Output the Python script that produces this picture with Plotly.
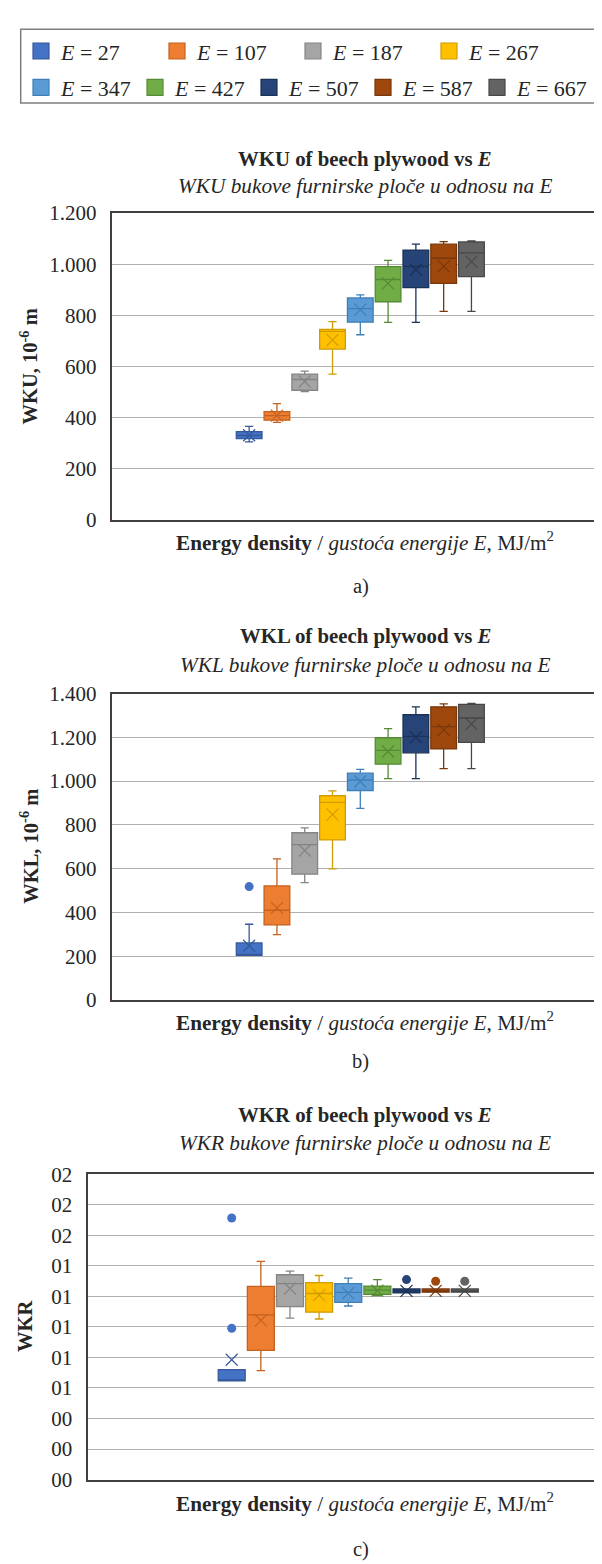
import plotly.graph_objects as go

# ---------------- data ----------------
ENERGY = [27, 107, 187, 267, 347, 427, 507, 587, 667]
COLORS = ["#4472C4", "#ED7D31", "#A5A5A5", "#FFC000", "#5B9BD5",
          "#70AD47", "#264478", "#9E480E", "#636363"]
LINE_COLORS = ["#35599a", "#c4621f", "#858585", "#d09c00", "#3f7fb8",
               "#568a35", "#1b3257", "#7a370a", "#474747"]

# a) WKU, 10^-6 m
WKU_MIN = [305, 381, 502, 570, 724, 772, 772, 815, 815]
WKU_Q1 = [318, 390, 507, 668, 773, 853, 908, 925, 951]
WKU_MED = [330, 408, 549, 737, 826, 940, 991, 1023, 1044]
WKU_Q3 = [345, 423, 570, 745, 868, 990, 1055, 1078, 1087]
WKU_MAX = [366, 455, 582, 775, 880, 1015, 1078, 1088, 1091]
WKU_MEAN = [331, 408, 541, 703, 822, 925, 978, 991, 1010]
WKU_OUT = [[], [], [], [], [], [], [], [], []]

# b) WKL, 10^-6 m
WKL_MIN = [204, 299, 536, 599, 875, 1011, 1011, 1057, 1057]
WKL_Q1 = [204, 343, 575, 731, 957, 1077, 1129, 1147, 1177]
WKL_MED = [207, 410, 710, 903, 1005, 1140, 1204, 1249, 1288]
WKL_Q3 = [261, 521, 764, 933, 1036, 1198, 1303, 1339, 1350]
WKL_MAX = [346, 645, 786, 955, 1053, 1240, 1339, 1353, 1355]
WKL_MEAN = [248, 421, 683, 847, 998, 1135, 1200, 1234, 1260]
WKL_OUT = [[518], [], [], [], [], [], [], [], []]

# c) WKR
WKR_MIN = [0.00647, 0.00714, 0.01058, 0.01052, 0.01137, 0.01205, 0.01223, 0.01228, 0.01228]
WKR_Q1 = [0.00647, 0.00847, 0.01133, 0.01097, 0.01161, 0.01213, 0.01223, 0.01228, 0.01228]
WKR_MED = [0.00650, 0.01079, 0.01284, 0.01219, 0.01226, 0.01241, 0.01236, 0.01236, 0.01236]
WKR_Q3 = [0.00720, 0.01266, 0.01342, 0.01290, 0.01284, 0.01268, 0.01249, 0.01249, 0.01249]
WKR_MAX = [0.00720, 0.01430, 0.01365, 0.01337, 0.01320, 0.01310, 0.01249, 0.01249, 0.01249]
WKR_MEAN = [0.00785, 0.01043, 0.01252, 0.01208, 0.01222, 0.01238, 0.01236, 0.01236, 0.01236]
WKR_OUT = [[0.00991, 0.01714], [], [], [], [], [], [0.01310], [0.01299], [0.01299]]

WKU_TICKS = [0, 200, 400, 600, 800, 1000, 1200]
WKL_TICKS = [0, 200, 400, 600, 800, 1000, 1200, 1400]
WKR_TICK_VALS = [0, 0.002, 0.004, 0.006, 0.008, 0.010, 0.012, 0.014, 0.016, 0.018, 0.020]
WKR_TICK_TEXT = ["00", "00", "00", "01", "01", "01", "01", "01", "02", "02", "02"]

PANELS = [
    dict(mn=WKU_MIN, q1=WKU_Q1, med=WKU_MED, q3=WKU_Q3, mx=WKU_MAX, mean=WKU_MEAN, out=WKU_OUT),
    dict(mn=WKL_MIN, q1=WKL_Q1, med=WKL_MED, q3=WKL_Q3, mx=WKL_MAX, mean=WKL_MEAN, out=WKL_OUT),
    dict(mn=WKR_MIN, q1=WKR_Q1, med=WKR_MED, q3=WKR_Q3, mx=WKR_MAX, mean=WKR_MEAN, out=WKR_OUT),
]

# ---------------- figure ----------------
W, H = 602, 1564
FONT = "Liberation Serif, Times New Roman, serif"
TXT = "#262626"

fig = go.Figure()
axis_suffix = ["", "2", "3"]
for p, d in enumerate(PANELS):
    xs = "x" + axis_suffix[p]
    ys = "y" + axis_suffix[p]
    for i, e in enumerate(ENERGY):
        fig.add_trace(go.Box(
            x=[e], q1=[d["q1"][i]], median=[d["med"][i]], q3=[d["q3"][i]],
            lowerfence=[d["mn"][i]], upperfence=[d["mx"][i]],
            width=74, whiskerwidth=0.32, boxpoints=False,
            fillcolor=COLORS[i], line=dict(color=LINE_COLORS[i], width=1.3),
            name=f"<i>E</i> = {e}", legendgroup=str(e), showlegend=False,
            xaxis=xs, yaxis=ys, hoverinfo="skip",
        ))
        fig.add_trace(go.Scatter(
            x=[e], y=[d["mean"][i]], mode="markers", showlegend=False,
            legendgroup=str(e),
            marker=dict(symbol="x-thin", size=12,
                        line=dict(color=LINE_COLORS[i], width=1.2)),
            xaxis=xs, yaxis=ys, hoverinfo="skip",
        ))
        if d["out"][i]:
            fig.add_trace(go.Scatter(
                x=[e] * len(d["out"][i]), y=d["out"][i], mode="markers",
                showlegend=False, legendgroup=str(e),
                marker=dict(symbol="circle", size=9, color=COLORS[i],
                            line=dict(width=0)),
                xaxis=xs, yaxis=ys, hoverinfo="skip",
            ))

# legend keys (square swatches, as in the original legend)
for i, e in enumerate(ENERGY):
    fig.add_trace(go.Scatter(
        x=[None], y=[None], mode="markers", name=f"<i>E</i> = {e}",
        legendgroup=str(e), legend=("legend" if i < 4 else "legend2"),
        marker=dict(symbol="square", size=16, color=COLORS[i],
                    line=dict(color=LINE_COLORS[i], width=1.2)),
        hoverinfo="skip",
    ))


def px_x(v):
    return v / W


def px_y(v):
    return 1 - v / H


XRANGE = [-369, 1063]
plots = [  # (left, top, bottom) in pixels
    (103.6, 196, 507.7),
    (103.6, 684, 995.3),
    (79.5, 1172.3, 1482.3),
]
RIGHT = 601

xaxis_common = dict(range=XRANGE, showticklabels=False, showgrid=False,
                    zeroline=False, showline=True, mirror=True,
                    linecolor="#404040", linewidth=2, ticks="", fixedrange=True)
yaxis_common = dict(showline=True, linecolor="#404040", linewidth=2,
                    showgrid=True, gridcolor="#b0b0b0", gridwidth=1.3,
                    zeroline=False, ticks="", ticklabelstandoff=9,
                    tickfont=dict(family=FONT, size=21, color=TXT))

layout = dict(
    width=W, height=H, margin=dict(l=0, r=0, t=0, b=0),
    paper_bgcolor="white", plot_bgcolor="white",
    separators=",.",
    font=dict(family=FONT, color=TXT),
)
for p, (l, t, b) in enumerate(plots):
    layout["xaxis" + axis_suffix[p]] = dict(
        xaxis_common, domain=[px_x(l), px_x(RIGHT)],
        anchor="y" + axis_suffix[p])
    ya = dict(yaxis_common, domain=[px_y(b), px_y(t)],
              anchor="x" + axis_suffix[p])
    if p == 0:
        ya.update(range=[0, 1200], tickvals=WKU_TICKS, tickformat=",")
    elif p == 1:
        ya.update(range=[0, 1400], tickvals=WKL_TICKS, tickformat=",")
    else:
        ya.update(range=[0, 0.020], tickvals=WKR_TICK_VALS, ticktext=WKR_TICK_TEXT)
    layout["yaxis" + axis_suffix[p]] = ya

layout["legend"] = dict(orientation="h", x=px_x(13), y=px_y(31.7),
                        xanchor="left", yanchor="middle", entrywidth=91,
                        itemsizing="trace",
                        font=dict(family=FONT, size=22, color=TXT),
                        bgcolor="rgba(0,0,0,0)", traceorder="normal")
layout["legend2"] = dict(orientation="h", x=px_x(13), y=px_y(68.7),
                         xanchor="left", yanchor="middle", entrywidth=69,
                         itemsizing="trace",
                         font=dict(family=FONT, size=22, color=TXT),
                         bgcolor="rgba(0,0,0,0)", traceorder="normal")
fig.update_layout(**layout)

# legend frame
fig.add_shape(type="rect", xref="paper", yref="paper",
              x0=px_x(12.7), x1=px_x(599), y0=px_y(84.3), y1=px_y(9.3),
              line=dict(color="#7f7f7f", width=1.5))
# right light border of each plot
for p in range(3):
    fig.add_shape(type="line", xref="x" + axis_suffix[p] + " domain",
                  yref="y" + axis_suffix[p] + " domain",
                  x0=1, x1=1, y0=0, y1=1, line=dict(color="#d0d0d0", width=1))


def ann(text, x, y, size=20, angle=0):
    fig.add_annotation(text=text, x=px_x(x), y=px_y(y), xref="paper", yref="paper",
                       showarrow=False, xanchor="center", yanchor="middle",
                       textangle=angle, font=dict(family=FONT, size=size, color=TXT))


names = ["WKU", "WKL", "WKR"]
title_y = [(140.7, 168.3), (626, 655), (1112.3, 1140)]
xtitle_y = [530, 1016.7, 1506]
label_y = [575, 1058, 1553.3]
ytitle = ["<b>WKU, 10<sup>-6</sup> m</b>", "<b>WKL, 10<sup>-6</sup> m</b>", "<b>WKR</b>"]
ytitle_x = [21, 21, 17]
labels = ["a)", "b)", "c)"]
for p in range(3):
    l, t, b = plots[p]
    ann(f"<b>{names[p]} of beech plywood vs <i>E</i></b>", 357, title_y[p][0], 20.8)
    ann(f"<i>{names[p]} bukove furnirske ploče u odnosu na E</i>", 356.5, title_y[p][1], 21.3)
    ann("<b>Energy density</b> / <i>gustoća energije E</i>, MJ/m<sup>2</sup>",
        356.5, xtitle_y[p], 21.2)
    ann(ytitle[p], ytitle_x[p], (t + b) / 2, 20.5, -90)
    ann(labels[p], 352.5, label_y[p], 20.5)

fig.write_html("out.html")
